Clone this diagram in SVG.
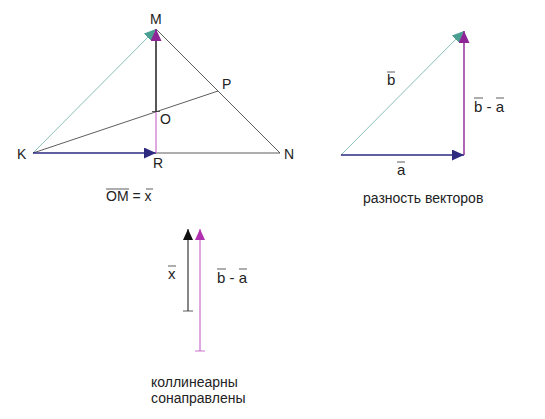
<svg xmlns="http://www.w3.org/2000/svg" width="545" height="419" viewBox="0 0 545 419">
<style>
text{font-family:"Liberation Sans",Arial,sans-serif;font-size:14px;fill:#222}
.pt{font-size:14px}
.big{font-size:15px}
.thin{stroke:#333;stroke-width:0.8;fill:none}
.teal{stroke:#6aaea4;stroke-width:0.8;fill:none}
.navy{stroke:#2e2a80;stroke-width:1.4;fill:none}
.purple{stroke:#8e2496;stroke-width:1.4;fill:none}
.mag{stroke:#c050c0;stroke-width:1;fill:none}
.blk{stroke:#111;stroke-width:1.4;fill:none}
.ol{stroke:#333;stroke-width:0.8}
</style>
<defs>
<marker id="aNavy" markerUnits="userSpaceOnUse" markerWidth="13" markerHeight="11" refX="12" refY="5.5" orient="auto"><path d="M0,0 L12,5.5 L0,11 Z" fill="#2e2a80"/></marker>
<marker id="aPurple" markerUnits="userSpaceOnUse" markerWidth="13" markerHeight="11" refX="12" refY="5.5" orient="auto"><path d="M0,0 L12,5.5 L0,11 Z" fill="#8e2496"/></marker>
<marker id="aTeal" markerUnits="userSpaceOnUse" markerWidth="13" markerHeight="11" refX="12" refY="5.5" orient="auto"><path d="M0,0 L12,5.5 L0,11 Z" fill="#4a9e92"/></marker>
<marker id="aBlk" markerUnits="userSpaceOnUse" markerWidth="12" markerHeight="10" refX="11" refY="5" orient="auto"><path d="M0,0 L11,5 L0,10 Z" fill="#111"/></marker>
<marker id="aMag" markerUnits="userSpaceOnUse" markerWidth="12" markerHeight="10" refX="11" refY="5" orient="auto"><path d="M0,0 L11,5 L0,10 Z" fill="#b030b0"/></marker>
</defs>
<g id="connectors">
<line class="teal" x1="33" y1="153" x2="156" y2="29" marker-end="url(#aTeal)"/>
<line class="thin" x1="156" y1="29" x2="280" y2="153"/>
<line class="thin" x1="156" y1="153" x2="280" y2="153"/>
<line class="thin" x1="33" y1="153" x2="218" y2="91"/>
<line class="navy" x1="33" y1="153" x2="156" y2="153" marker-end="url(#aNavy)"/>
<line class="mag" x1="156" y1="153" x2="156" y2="112"/>
<line class="blk" x1="156" y1="112" x2="156" y2="40"/>
<line class="purple" x1="156" y1="40" x2="156" y2="29" marker-end="url(#aPurple)"/>
<line class="ol" x1="152" y1="111.5" x2="160" y2="111.5"/>
<line class="teal" x1="341" y1="155" x2="464" y2="31" marker-end="url(#aTeal)"/>
<line class="navy" x1="341" y1="155" x2="464" y2="155" marker-end="url(#aNavy)"/>
<line class="purple" x1="464" y1="155" x2="464" y2="31" marker-end="url(#aPurple)"/>
<line class="blk" x1="188" y1="311" x2="188" y2="229" style="stroke-width:1" marker-end="url(#aBlk)"/>
<line class="ol" x1="183" y1="311" x2="193" y2="311"/>
<line class="mag" x1="200" y1="351" x2="200" y2="229" marker-end="url(#aMag)"/>
<line class="ol" x1="195" y1="351" x2="205" y2="351" style="stroke:#c050c0"/>
</g>
<g id="M"><text class="pt" x="150" y="24">M</text></g>
<g id="P"><text class="pt" x="222" y="89">P</text></g>
<g id="O"><text class="pt" x="160" y="124">O</text></g>
<g id="K"><text class="pt" x="17" y="159">K</text></g>
<g id="R"><text class="pt" x="153" y="168">R</text></g>
<g id="N"><text class="pt" x="284" y="159">N</text></g>
<g id="eq1"><text x="106" y="201">OM = x</text>
<line class="ol" x1="106" y1="189" x2="129" y2="189"/><line class="ol" x1="146" y1="189" x2="153" y2="189"/></g>
<g id="labelB"><text class="big" x="387" y="85">b</text><line class="ol" x1="387" y1="72" x2="395" y2="72"/></g>
<g id="labelBA"><text class="big" x="474" y="112">b - a</text><line class="ol" x1="474" y1="98" x2="483" y2="98"/><line class="ol" x1="496" y1="98" x2="504" y2="98"/></g>
<g id="labelA"><text class="big" x="397" y="175">a</text><line class="ol" x1="397" y1="162" x2="405" y2="162"/></g>
<g id="cap1"><text x="363" y="203">разность векторов</text></g>
<g id="labelX"><text class="big" x="168" y="279">x</text><line class="ol" x1="168" y1="266" x2="176" y2="266"/></g>
<g id="labelBA2"><text class="big" x="217" y="283">b - a</text><line class="ol" x1="217" y1="269" x2="226" y2="269"/><line class="ol" x1="239" y1="269" x2="247" y2="269"/></g>
<g id="cap2"><text x="151" y="387">коллинеарны</text><text x="151" y="403">сонаправлены</text></g>
</svg>
